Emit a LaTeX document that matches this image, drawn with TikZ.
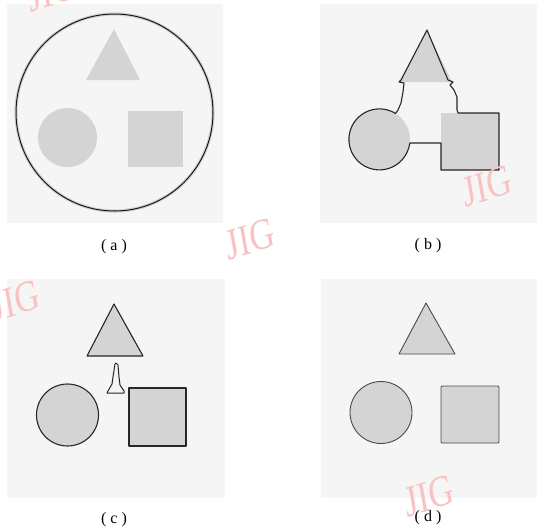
\documentclass[tikz,border=0pt]{standalone}
\usepackage{fontspec}
\setmainfont{Liberation Serif}
\definecolor{panelbg}{HTML}{F5F5F5}
\definecolor{shapefill}{HTML}{D4D4D4}
\definecolor{wmpink}{HTML}{F8C2C2}
\definecolor{edge}{HTML}{262626}
\definecolor{softedge}{HTML}{4A4A4A}
\begin{document}
\begin{tikzpicture}[x=1pt,y=-1pt,
  panel/.style={fill=panelbg, draw=none},
  blob/.style={fill=shapefill, draw=none},
  contour/.style={draw=edge, line width=1.1pt, line join=round},
  soft/.style={draw=softedge, line width=0.9pt, line join=round},
  lbl/.style={font=\fontsize{16}{18}\selectfont, inner sep=0pt},
  wm/.style={text=wmpink, font=\fontsize{44}{44}\selectfont, inner sep=0pt, xscale=0.78, rotate=13}]
\useasboundingbox (0,0) rectangle (543,528);
\clip (0,0) rectangle (543,528);

% ---------- panel (a)
\fill[panel] (7,4) rectangle (223,223);
\fill[blob] (114,29) -- (140,80) -- (86,80) -- cycle;
\fill[blob] (67.5,137.5) circle[radius=29.5];
\fill[blob] (128,111) rectangle (183,167);
\draw[black!18, line width=3.2pt] (114.5,112.5) circle[radius=98.5];
\draw[black!90, line width=1pt] (114.5,112.5) circle[radius=98.5];
\node[lbl] (la) at (114,247) {(\hspace{4pt}a\hspace{4pt})};

% ---------- panel (b)
\fill[panel] (320,4) rectangle (537,223);
\fill[blob] (427,30) -- (452,82) -- (400,82) -- cycle;
\fill[blob] (379.5,139.5) circle[radius=30.5];
\fill[blob] (441,113) rectangle (499,170);
\draw[contour] (427,30) -- (448,80) -- (453,82) -- (450,85) -- (454,90) -- (457,97)
  -- (457,110) -- (458,113) -- (499,113) -- (499,170) -- (441,170) -- (441,143)
  -- (410,143) -- (408.6,148.3)
  arc[start angle=17, end angle=302, radius=30.5]
  -- (398,110) -- (401,103) -- (403,92) -- (404,83) -- (399,82) -- (401,80) -- cycle;
\node[lbl] (lb) at (428,246) {(\hspace{4pt}b\hspace{4pt})};

% ---------- panel (c)
\fill[panel] (7,279) rectangle (225,498);
\filldraw[blob, contour] (114,304) -- (143,356) -- (87,356) -- cycle;
\filldraw[blob, contour] (67.5,415) circle[radius=31];
\filldraw[blob, contour] (129,388) rectangle (186,446);
\draw[contour, line width=1pt] (116,363) -- (118,365) -- (119,377) -- (120,385) -- (124,391)
  -- (124,393) -- (107,393) -- (108,391) -- (112,384) -- (113,377) -- (115,364) -- cycle;
\node[lbl] (lc) at (114,520) {(\hspace{4pt}c\hspace{4pt})};

% ---------- panel (d)
\fill[panel] (321,279) rectangle (537,498);
\filldraw[blob, soft] (426,303) -- (455,354) -- (399,354) -- cycle;
\filldraw[blob, soft] (381,412.5) circle[radius=31];
\filldraw[blob, soft, rounded corners=1pt] (441,386) rectangle (499,443);
\node[lbl] (ld) at (428,518) {(\hspace{4pt}d\hspace{4pt})};

% ---------- watermarks
\node[wm] (w1) at (52,-9) {JIG};
\node[wm] (w2) at (250,239) {JIG};
\node[wm] (w3) at (487,186) {JIG};
\node[wm] (w4) at (15,301) {JIG};
\node[wm] (w5) at (429,496) {JIG};
\end{tikzpicture}
\end{document}
